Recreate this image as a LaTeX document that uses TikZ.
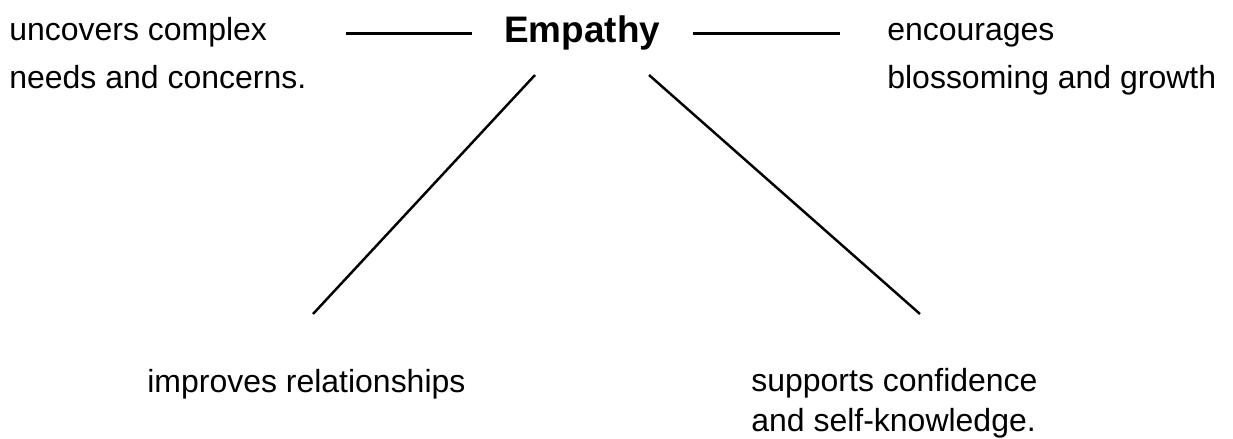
\documentclass[tikz,border=0pt]{standalone}
\usepackage{fontspec}
\setmainfont{Liberation Sans}
\usetikzlibrary{positioning}
\tikzset{lbl/.style={inner sep=0pt,align=left,font=\fontsize{18.2}{27.3}\selectfont}}

\begin{document}
\begin{tikzpicture}[x=0.02cm, y=-0.02cm, hline/.style={line width=1.7pt}, dline/.style={line width=1.4pt}]
        \useasboundingbox (0,0) rectangle (1233,439);
        \node[lbl,anchor=base west,font=\fontsize{21}{25}\selectfont\bfseries] (emp) at (504,43) {Empathy};
        \node[lbl,anchor=base west] (unc) at (9,88.3) {uncovers complex\\needs and concerns.};
        \node[lbl,anchor=base west] (enc) at (887,88.3) {encourages\\blossoming and growth};
        \node[lbl,anchor=base west] (imp) at (147,392) {improves relationships};
        \node[lbl,anchor=base west,font=\fontsize{18.2}{22.8}\selectfont] (sup) at (751,431.7) {supports confidence\\and self-knowledge.};
        \coordinate (empL) at (535,75);
        \coordinate (empR) at (649,75);
        \coordinate (impT) at (313,314);
        \coordinate (supT) at (920,314);
        \draw[hline,shorten <=0.64cm,shorten >=0.78cm] ([yshift=5.5pt]emp.base west) -- ([yshift=5.5pt]emp.base west -| unc.east);
        \draw[hline,shorten <=0.64cm,shorten >=0.94cm] ([yshift=5.5pt]emp.base east) -- ([yshift=5.5pt]emp.base east -| enc.west);
        \draw[dline] (empL) -- (impT);
        \draw[dline] (empR) -- (supT);
\end{tikzpicture}
\end{document}
